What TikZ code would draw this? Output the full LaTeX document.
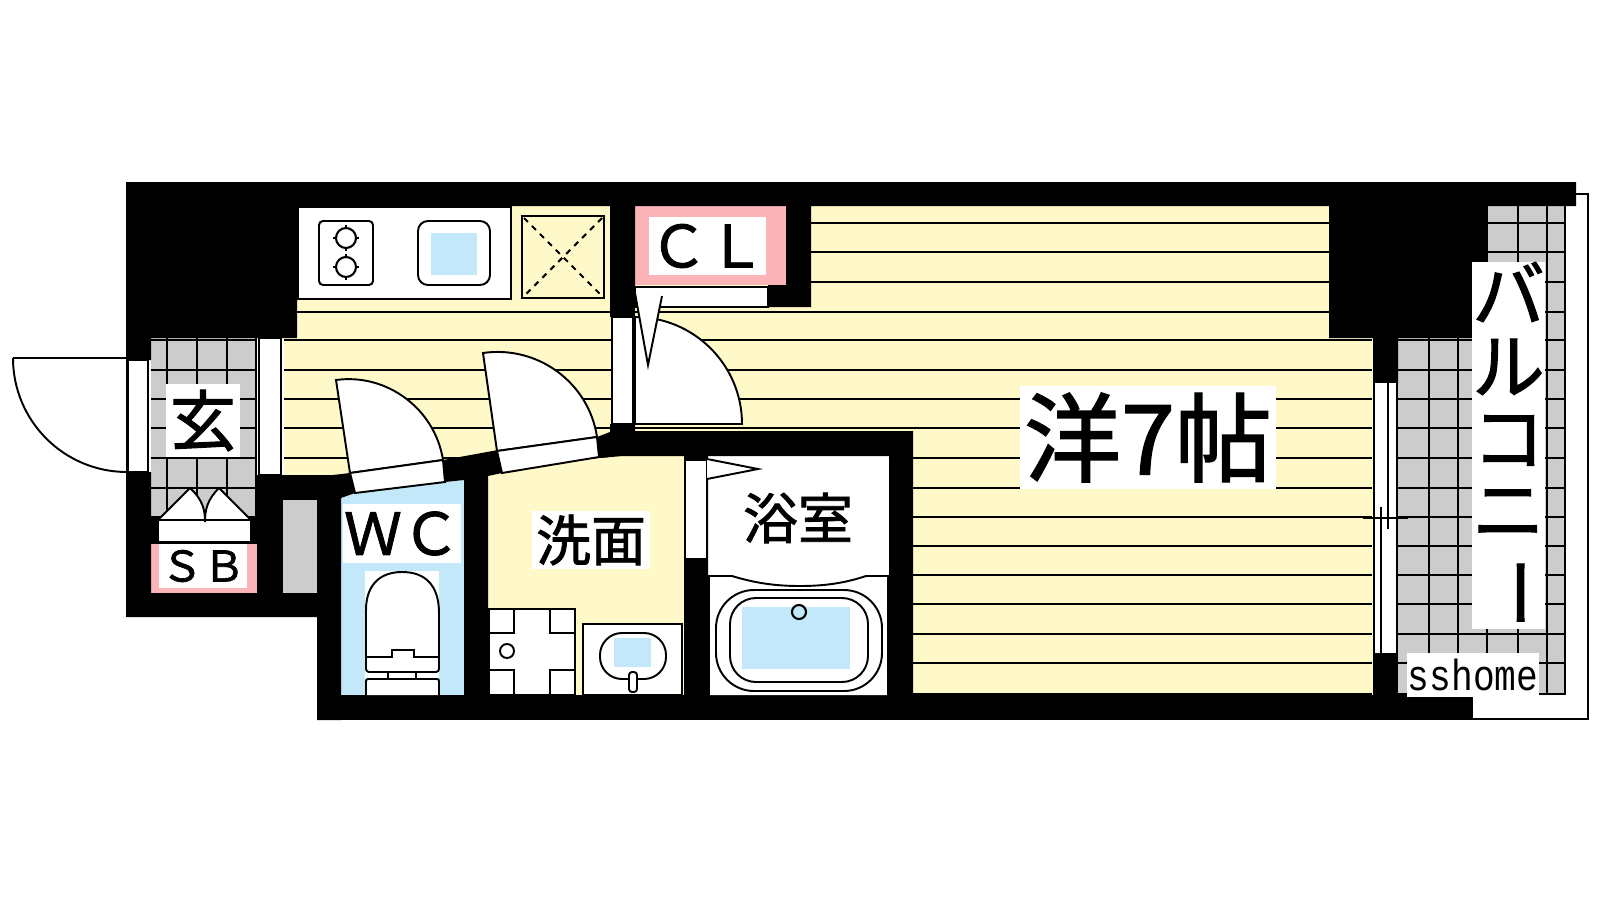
\documentclass[tikz,border=0pt]{standalone}
\usepackage{fontspec}
\setmainfont{Noto Sans CJK JP}[FakeBold=1.5]
\newfontfamily\latinfont{Liberation Mono}
\definecolor{floorcol}{HTML}{FFF8C8}
\definecolor{tilecol}{HTML}{CCCCCC}
\definecolor{watercol}{HTML}{C2E8FA}
\definecolor{storecol}{HTML}{FBB4B8}
\tikzset{
  wall/.style={fill=black},
  gridline/.style={draw=black,line width=.45pt},
  fixture/.style={draw=black,fill=white,line width=.55pt},
  tag/.style={fill=white,inner sep=0pt,align=center},
}
\begin{document}
\begin{tikzpicture}[x=0.01cm,y=-0.01cm]
  \useasboundingbox (0,0) rectangle (1600,900);

  \begin{scope}
    \clip (284,206) -- (1373,206) -- (1373,695) -- (317,695) -- (317,475) -- (284,475) -- cycle;
    \fill[floorcol] (284,206) rectangle (1373,695);
    \foreach \ly in {223,252,282,312,340,370,399,428,458,488,517,546,575,604,634,663,694}
      \draw[gridline] (284,\ly) -- (1372,\ly);
  \end{scope}

  \fill[tilecol] (151,338) rectangle (257,518);
  \foreach \lx in {167,197,227,256}
    \draw[gridline] (\lx,338) -- (\lx,518);
  \foreach \ly in {340,370,399,428,458,488,517}
    \draw[gridline] (151,\ly) -- (257,\ly);

  \fill[tilecol] (1398,338) rectangle (1565,695) (1487,206) rectangle (1565,338);
  \foreach \lx in {1429,1458}
    \draw[gridline] (\lx,338) -- (\lx,695);
  \foreach \lx in {1487,1518,1547,1565}
    \draw[gridline] (\lx,206) -- (\lx,695);
  \foreach \ly in {223,252,282,312}
    \draw[gridline] (1487,\ly) -- (1565,\ly);
  \foreach \ly in {340,370,399,428,458,488,517,546,575,604,634,663,694}
    \draw[gridline] (1398,\ly) -- (1565,\ly);
  \draw[gridline] (1576,194) -- (1588,194) -- (1588,719) -- (1473,719);

  \fill[floorcol] (511,206) rectangle (610,299);
  \draw[fixture] (298,207) rectangle (511,299);
  \draw[fixture,rounded corners=.04cm] (319,221) rectangle (373,285);
  \foreach \by in {238,267} {
    \draw[line width=.6pt] (346,\by) circle[radius=.1cm];
    \draw[line width=.6pt] (333,\by) -- (337,\by) (355,\by) -- (359,\by) (346,\by-13) -- (346,\by-9) (346,\by+9) -- (346,\by+13);
  }
  \draw[fixture,rounded corners=.1cm] (418,221) rectangle (490,285);
  \fill[watercol] (431,233) rectangle (477,275);
  \draw[draw=black,line width=.6pt] (522,216) rectangle (604,298);
  \draw[line width=.6pt,dash pattern=on 1.6pt off 1.6pt] (524,218) -- (602,296) (602,218) -- (524,296);

  \fill[storecol] (635,206) rectangle (786,285);
  \fill[storecol] (151,544) rectangle (258,593);
  \fill[watercol] (341,498) -- (355,493) -- (445,482) -- (464,480) -- (464,695) -- (341,695) -- cycle;
  \fill[floorcol] (488,476) -- (502,473) -- (599,458) -- (623,456) -- (684,456) -- (684,695) -- (488,695) -- cycle;
  \fill[white] (708,456) rectangle (889,695);

  \fill[wall] (126,182) -- (1576,182) -- (1576,206) -- (1487,206) -- (1487,338) -- (1398,338) -- (1398,383) -- (1373,383) -- (1373,338) -- (1329,338) -- (1329,206) -- (811,206) -- (811,307) -- (768,307) -- (768,285) -- (786,285) -- (786,206) -- (635,206) -- (635,317) -- (610,317) -- (610,206) -- (297,206) -- (297,338) -- (151,338) -- (151,360) -- (126,360) -- cycle;
  \fill[wall] (126,472) -- (151,472) -- (151,593) -- (257,593) -- (257,475) -- (333,475) -- (350,473) -- (355,493) -- (341,498) -- (341,720) -- (317,720) -- (317,617) -- (126,617) -- cycle;
  \fill[wall] (151,518) rectangle (258,544);
  \fill[tilecol] (283,500) rectangle (317,593);
  \fill[wall] (443,460) -- (498,450) -- (502,473) -- (488,476) -- (488,695) -- (464,695) -- (464,480) -- (445,482) -- cycle;
  \fill[wall] (597,437) -- (610,432) -- (610,424) -- (635,424) -- (635,431) -- (913,431) -- (913,695) -- (889,695) -- (889,456) -- (708,456) -- (708,695) -- (684,695) -- (684,456) -- (623,456) -- (599,458) -- cycle;
  \fill[wall] (317,695) rectangle (1473,720);
  \fill[wall] (1373,653) rectangle (1398,695);

  \draw[fixture] (13,358) -- (127,358) -- (127,472) .. controls (64,472) and (13,421) .. (13,358);
  \draw[fixture] (128,360) rectangle (148,472);
  \draw[fixture] (259,338) rectangle (281,475);
  \draw[fixture] (158,520) rectangle (251,542);
  \draw[fixture] (158,520) -- (190,488) .. controls (203,500) and (205,510) .. (205,522) .. controls (205,510) and (207,500) .. (219,488) -- (251,520) -- cycle;

  \draw[fixture] (350,473) -- (336,380) .. controls (387,373) and (435,409) .. (443,460) -- cycle;
  \draw[fixture] (350,473) -- (443,460) -- (445,482) -- (355,493) -- cycle;
  \draw[fixture] (497,451) -- (483,353) .. controls (538,345) and (589,383) .. (597,437) -- cycle;
  \draw[fixture] (497,451) -- (597,437) -- (599,457) -- (502,473) -- cycle;

  \draw[fixture] (635,424) -- (635,317) .. controls (694,317) and (742,365) .. (742,424) -- cycle;
  \draw[fixture] (612,317) rectangle (633,424);
  \draw[fixture] (635,287) rectangle (768,307);
  \draw[fixture] (635,293) -- (648,365) -- (662,296);

  \draw[fixture] (685,460) rectangle (707,559);
  \draw[fixture] (707,459) -- (758,469) -- (707,479);

  \fill[white] (365,571) rectangle (439,695);
  \draw[fixture] (366,613) .. controls (366,585) and (380,572) .. (402,572) .. controls (425,572) and (439,585) .. (439,613) [rounded corners=.03cm] -- (439,672) -- (366,672) -- cycle;
  \draw[line width=.55pt] (366,657) -- (392,657) -- (392,650) -- (414,650) -- (414,657) -- (439,657);
  \draw[fixture] (388,672) rectangle (416,679);
  \draw[fixture,rounded corners=.02cm] (366,695) -- (366,679) -- (439,679) -- (439,695);

  \draw[fixture] (489,695) -- (489,609) -- (575,609) -- (575,695) -- cycle;
  \draw[line width=.55pt] (489,633) -- (514,633) -- (514,609) (550,609) -- (550,633) -- (575,633) (489,670) -- (514,670) -- (514,695) (550,695) -- (550,670) -- (575,670);
  \draw[line width=.55pt] (507,651) circle[radius=.07cm];

  \draw[fixture] (583,695) -- (583,624) -- (682,624) -- (682,695) -- cycle;
  \draw[fixture,rounded corners=.22cm] (600,633) rectangle (666,679);
  \fill[watercol] (614,638) rectangle (651,667);
  \draw[fixture,rounded corners=.03cm] (629,692) -- (629,672) -- (637,672) -- (637,692) -- cycle;

  \draw[fixture] (709,695) -- (709,576) -- (732,576) .. controls (755,583) and (775,586) .. (800,586) .. controls (825,586) and (845,583) .. (866,576) -- (888,576) -- (888,695);
  \draw[fixture,rounded corners=.38cm] (716,590) rectangle (882,691);
  \draw[fixture,rounded corners=.26cm] (730,598) rectangle (868,682);
  \fill[watercol] (742,607) rectangle (850,669);
  \draw[draw=black,fill=watercol,line width=.6pt] (799,612) circle[radius=.07cm];

  \fill[white] (1373,383) rectangle (1398,653);
  \draw[gridline] (1374,383) -- (1374,653) (1397,383) -- (1397,653);
  \draw[gridline] (1388,383) -- (1388,529) (1381,507) -- (1381,653);
  \draw[gridline] (1363,518) -- (1408,518);

  \node[tag,minimum width=.74cm,minimum height=.72cm,font=\fontsize{18.8}{18.8}\selectfont] (genkan) at (203,420.5) {玄};
  \node[tag,minimum width=.88cm,minimum height=.44cm,font=\fontsize{12}{12}\selectfont] (shoebox) at (203,566) {ＳＢ};
  \node[tag,minimum width=1.17cm,minimum height=.58cm,font=\fontsize{16.5}{16.5}\selectfont] (closet) at (707.5,246) {ＣＬ};
  \node[tag,minimum width=1.18cm,minimum height=.59cm,font=\fontsize{16.5}{16.5}\selectfont] (toilet) at (402,533.5) {ＷＣ};
  \node[tag,minimum width=1.18cm,minimum height=.58cm,font=\fontsize{15.6}{15.6}\selectfont] (washroom) at (591,540) {洗面};
  \node[tag,font=\fontsize{15.6}{15.6}\selectfont] (bathroom) at (798,518) {浴室};
  \node[tag,minimum width=2.56cm,minimum height=1.03cm,font=\fontsize{27.6}{27.6}\selectfont] (bedroom) at (1148,437.5) {洋7帖};
  \node[tag,minimum width=.73cm,minimum height=3.67cm,font=\fontsize{20.6}{20.4}\selectfont] (balcony) at (1508.5,445.5) {バ\\ル\\コ\\ニ\\\rotatebox[origin=c]{-90}{ー}};
  \node[tag,minimum width=1.32cm,minimum height=.44cm,font=\latinfont\fontsize{10.3}{10.3}\selectfont] (watermark) at (1473,675) {\scalebox{1}[1.2]{sshome}};
\end{tikzpicture}
\end{document}
